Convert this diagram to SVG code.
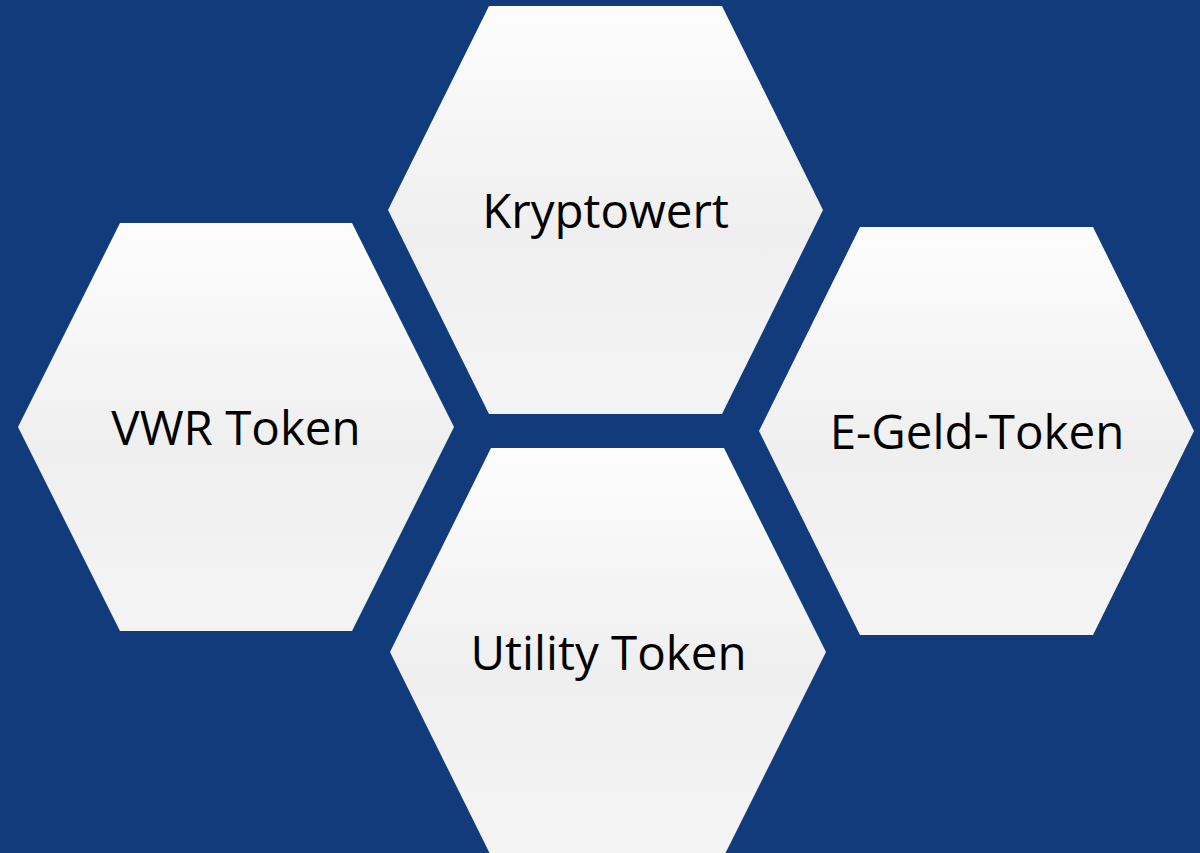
<svg xmlns="http://www.w3.org/2000/svg" width="1200" height="853" viewBox="0 0 1200 853">
<defs>
<linearGradient id="g" x1="0" y1="0" x2="0" y2="1">
<stop offset="0" stop-color="#fdfdfd"/>
<stop offset="0.55" stop-color="#efefef"/>
<stop offset="1" stop-color="#f4f4f4"/>
</linearGradient>
<style>
.hex{fill:url(#g);}
.lbl{font-family:"Open Sans","Noto Sans",sans-serif;font-size:47.5px;fill:#000;text-anchor:middle;}
</style>
</defs>
<rect width="1200" height="853" fill="#113b7a"/>
<g id="kryptowert">
<polygon class="hex" points="489,6 722,6 823,210 722,414 489,414 388,210"/>
<text class="lbl" x="605.5" y="228">Kryptowert</text>
</g>
<g id="vwr-token">
<polygon class="hex" points="120,223 352,223 454,427 352,631 120,631 18,427"/>
<text class="lbl" x="236" y="445">VWR Token</text>
</g>
<g id="e-geld-token">
<polygon class="hex" points="860,227 1093,227 1194,431 1093,635 860,635 759,431"/>
<text class="lbl" x="977" y="449">E-Geld-Token</text>
</g>
<g id="utility-token">
<polygon class="hex" points="491,448 724,448 826,652 724,856 491,856 390,652"/>
<text class="lbl" x="608.5" y="670">Utility Token</text>
</g>
<g id="connectors"/>
</svg>
